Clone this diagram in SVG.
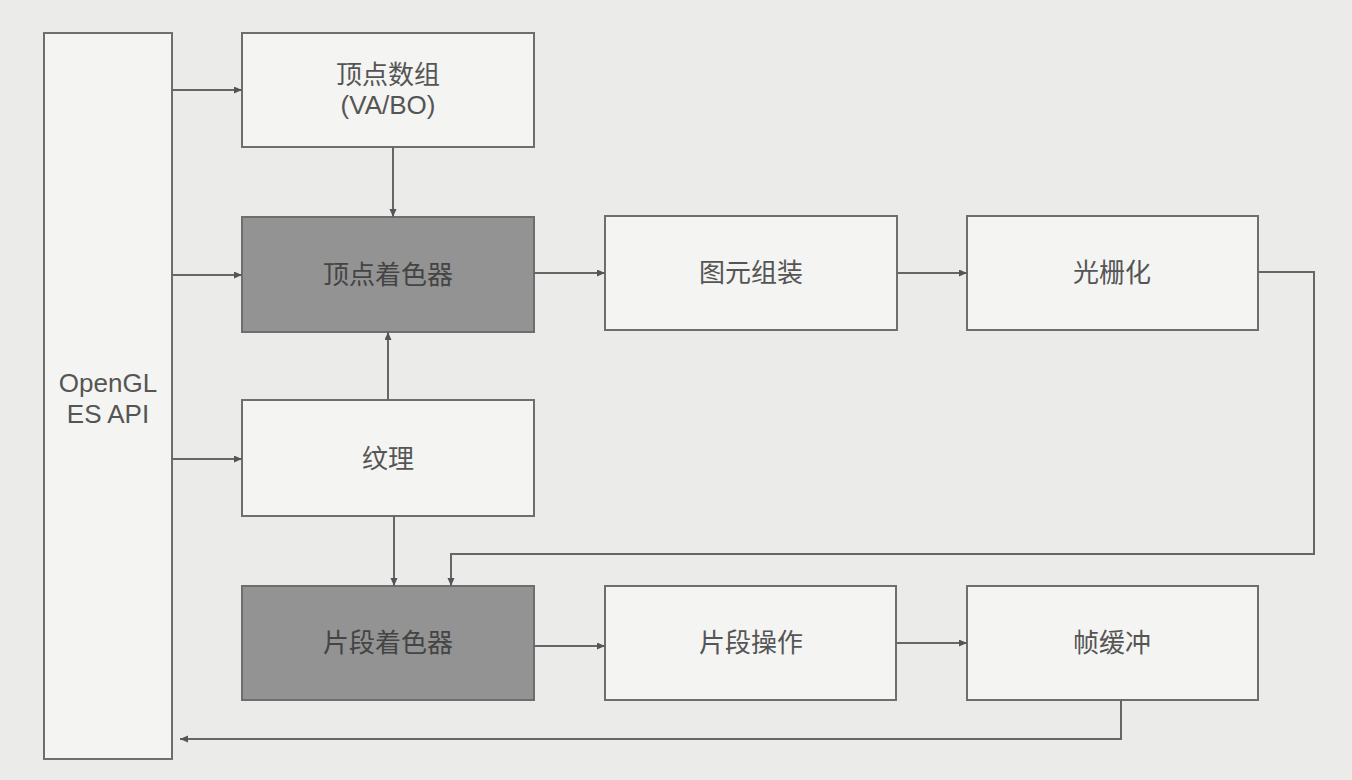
<svg xmlns="http://www.w3.org/2000/svg" width="1352" height="780" viewBox="0 0 1352 780">
<style>
.box{fill:#f4f4f2;stroke:#6e6e6e;stroke-width:2}
.dark{fill:#939393;stroke:#6e6e6e;stroke-width:2}
.lbl{font-family:"Liberation Sans","Noto Sans CJK SC",sans-serif;font-size:26px;fill:#555;text-anchor:middle}
.lbl-d{fill:#444}
.conn{fill:none;stroke:#666;stroke-width:2}
</style>
<defs>
<marker id="ah" markerUnits="userSpaceOnUse" markerWidth="9" markerHeight="8" refX="8" refY="3.5" orient="auto">
<path d="M0,0 L8,3.5 L0,7 z" fill="#555"/>
</marker>
</defs>
<rect width="1352" height="780" fill="#ebebe9"/>
<g id="api"><rect class="box" x="44" y="33" width="128" height="726"/><text class="lbl" x="108" y="392">OpenGL</text><text class="lbl" x="108" y="423">ES API</text></g>
<g id="va"><rect class="box" x="242" y="33" width="292" height="114"/><text class="lbl" x="388" y="84">顶点数组</text><text class="lbl" x="388" y="114">(VA/BO)</text></g>
<g id="vs"><rect class="dark" x="242" y="217" width="292" height="115"/><text class="lbl lbl-d" x="388" y="284">顶点着色器</text></g>
<g id="tex"><rect class="box" x="242" y="400" width="292" height="116"/><text class="lbl" x="388" y="468">纹理</text></g>
<g id="fs"><rect class="dark" x="242" y="586" width="292" height="114"/><text class="lbl lbl-d" x="388" y="652">片段着色器</text></g>
<g id="pa"><rect class="box" x="605" y="216" width="292" height="114"/><text class="lbl" x="751" y="282">图元组装</text></g>
<g id="ras"><rect class="box" x="967" y="216" width="291" height="114"/><text class="lbl" x="1112" y="282">光栅化</text></g>
<g id="fo"><rect class="box" x="605" y="586" width="291" height="114"/><text class="lbl" x="751" y="652">片段操作</text></g>
<g id="fb"><rect class="box" x="967" y="586" width="291" height="114"/><text class="lbl" x="1112" y="652">帧缓冲</text></g>
<g id="connectors">
<path class="conn" marker-end="url(#ah)" d="M172,90 H242"/>
<path class="conn" marker-end="url(#ah)" d="M172,275 H242"/>
<path class="conn" marker-end="url(#ah)" d="M172,459 H242"/>
<path class="conn" marker-end="url(#ah)" d="M393,147 V217"/>
<path class="conn" marker-end="url(#ah)" d="M388,400 V332"/>
<path class="conn" marker-end="url(#ah)" d="M394,516 V586"/>
<path class="conn" marker-end="url(#ah)" d="M534,273 H605"/>
<path class="conn" marker-end="url(#ah)" d="M897,273 H967"/>
<path class="conn" marker-end="url(#ah)" d="M1258,272 H1314 V554 H451 V586"/>
<path class="conn" marker-end="url(#ah)" d="M534,646 H605"/>
<path class="conn" marker-end="url(#ah)" d="M896,643 H967"/>
<path class="conn" marker-end="url(#ah)" d="M1121,700 V739 H180"/>
</g>
</svg>
